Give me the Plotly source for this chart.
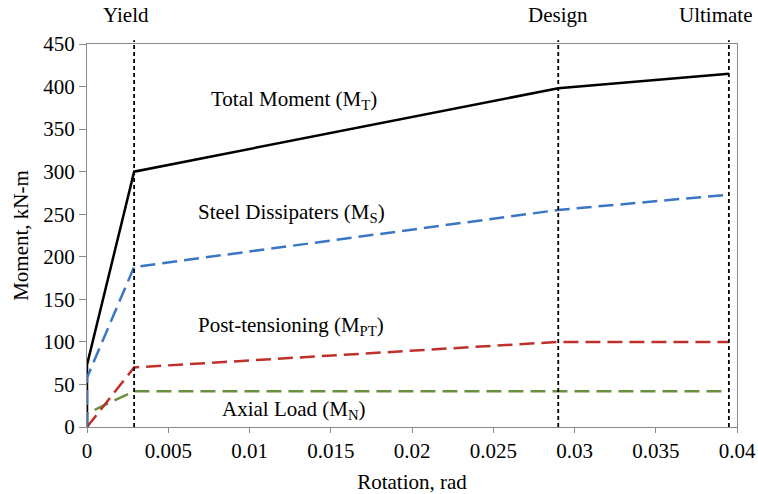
import plotly.graph_objects as go

# Data
rotation = [0, 0, 0.0029, 0.029, 0.0395]
total_moment = [0, 73, 300, 398, 415]
steel_moment = [0, 58, 188, 255, 273]
pt_moment = [0, 0, 70, 100, 100]
axial_moment = [0, 16, 42, 42, 42]

limit_names = ["Yield", "Design", "Ultimate"]
limit_rot = [0.0029, 0.029, 0.0395]
limit_shift = [-8, 0, -13]

x_ticks = [0, 0.005, 0.01, 0.015, 0.02, 0.025, 0.03, 0.035, 0.04]
x_tick_text = ["0", "0.005", "0.01", "0.015", "0.02", "0.025", "0.03", "0.035", "0.04"]
y_ticks = [0, 50, 100, 150, 200, 250, 300, 350, 400, 450]

series = [
    ("Axial Load (M<sub>N</sub>)", axial_moment, "#6a9140", "15px,7px"),
    ("Post-tensioning (M<sub>PT</sub>)", pt_moment, "#c0302b", "15px,7px"),
    ("Total Moment (M<sub>T</sub>)", total_moment, "#000000", "solid"),
    ("Steel Dissipaters (M<sub>S</sub>)", steel_moment, "#3a76c4", "15px,7px"),
]

FONT = "Liberation Serif, Times New Roman, serif"

fig = go.Figure()
for name, vals, color, dash in series:
    fig.add_trace(go.Scatter(x=rotation, y=vals, mode="lines", name=name,
                             line=dict(color=color, width=2.5, dash=dash),
                             showlegend=False, hoverinfo="skip"))

for name, xv, sh in zip(limit_names, limit_rot, limit_shift):
    fig.add_shape(type="line", xref="x", yref="paper", x0=xv, x1=xv, y0=0, y1=1.01,
                  line=dict(color="black", width=1.8, dash="4px,3px"))
    fig.add_annotation(x=xv, y=1, xref="x", yref="paper", yshift=29, xshift=sh,
                       text=name, showarrow=False, xanchor="center", yanchor="middle",
                       font=dict(family=FONT, size=21, color="black"))

# Curve labels (placed at x, y in data)
labels = [
    ("Total Moment (M<sub>T</sub>)", 0.01275, 384),
    ("Steel Dissipaters (M<sub>S</sub>)", 0.01260, 252),
    ("Post-tensioning (M<sub>PT</sub>)", 0.01255, 119),
    ("Axial Load (M<sub>N</sub>)", 0.01275, 20),
]
for text, xv, yv in labels:
    fig.add_annotation(x=xv, y=yv, text=text, showarrow=False, xanchor="center",
                       yanchor="middle", font=dict(family=FONT, size=21, color="black"))

fig.update_layout(
    width=758, height=494,
    margin=dict(l=87, r=21, t=44, b=67),
    paper_bgcolor="white", plot_bgcolor="white",
    font=dict(family=FONT, size=20, color="black"),
)
fig.update_xaxes(range=[0, 0.04], tickvals=x_ticks, ticktext=x_tick_text, automargin=False,
                 showgrid=False, zeroline=False, showline=True, linecolor="#8a8a8a",
                 linewidth=1.3, mirror=True, ticks="outside", ticklen=5, tickcolor="#8a8a8a",
                 title=dict(text="Rotation, rad", standoff=20, font=dict(family=FONT, size=21)),
                 tickfont=dict(family=FONT, size=21))
fig.update_yaxes(range=[0, 450], tickvals=y_ticks, automargin=False,
                 showgrid=False, zeroline=False, showline=True, linecolor="#8a8a8a",
                 linewidth=1.3, mirror=True, ticks="outside", ticklen=7, tickcolor="#8a8a8a",
                 title=dict(text="Moment, kN-m", standoff=8, font=dict(family=FONT, size=21)),
                 tickfont=dict(family=FONT, size=21))

# remove the default 8px page margin so the figure fills the window exactly
fig.write_html("out.html", config={"displayModeBar": False},
               post_script="document.body.style.margin='0px';")
